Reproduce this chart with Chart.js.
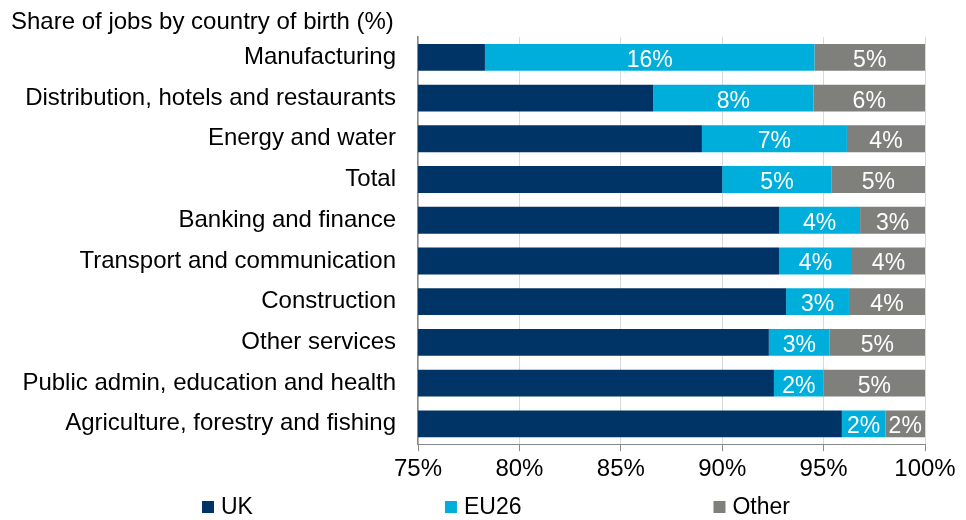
<!DOCTYPE html>
<html>
<head>
<meta charset="utf-8">
<title>Share of jobs by country of birth</title>
<script src="https://cdn.jsdelivr.net/npm/chart.js@4.4.1/dist/chart.umd.min.js"></script>
<style>
  html, body { margin: 0; padding: 0; background: #ffffff; }
  #wrap { width: 966px; height: 520px; }
</style>
</head>
<body>
<div id="wrap"><canvas id="chart" width="966" height="520"></canvas></div>
<script>
// Sectors, top to bottom
const sectors = [
  'Manufacturing',
  'Distribution, hotels and restaurants',
  'Energy and water',
  'Total',
  'Banking and finance',
  'Transport and communication',
  'Construction',
  'Other services',
  'Public admin, education and health',
  'Agriculture, forestry and fishing'
];

// Share of jobs held by workers born in each place (%)
const ukShare    = [78.3, 86.6, 89.0, 90.0, 92.8, 92.8, 93.15, 92.3, 92.55, 95.9];
const eu26Share  = [16.25, 7.9, 7.15, 5.4, 4.0, 3.6, 3.1, 3.0, 2.45, 2.15];
const otherShare = [5.45, 5.5, 3.85, 4.6, 3.2, 3.6, 3.75, 4.7, 5.0, 1.95];

const seriesNames = ['UK', 'EU26', 'Other'];
const seriesColors = ['#003366', '#00AEDB', '#7F7F7B'];

const axisMin = 75;
const axisMax = 100;
const axisStep = 5;

const chartTitle = 'Share of jobs by country of birth (%)';
const FONT = '"Liberation Sans", Arial, sans-serif';
const TEXT_SIZE = 24;   // title, category and axis labels
const MARK_SIZE = 23;   // segment values and legend

// Title drawn in the top-left corner
const titlePlugin = {
  id: 'cornerTitle',
  afterDraw(chart) {
    const ctx = chart.ctx;
    ctx.save();
    ctx.font = TEXT_SIZE + 'px ' + FONT;
    ctx.fillStyle = '#000000';
    ctx.textAlign = 'left';
    ctx.textBaseline = 'alphabetic';
    ctx.fillText(chartTitle, 11, 28.5);
    ctx.restore();
  }
};

// White value labels centred in the EU26 and Other segments
const segmentLabelPlugin = {
  id: 'segmentLabels',
  afterDatasetsDraw(chart) {
    const ctx = chart.ctx;
    const area = chart.chartArea;
    ctx.save();
    ctx.font = MARK_SIZE + 'px ' + FONT;
    ctx.fillStyle = '#ffffff';
    ctx.textAlign = 'center';
    ctx.textBaseline = 'alphabetic';
    [1, 2].forEach(di => {
      const meta = chart.getDatasetMeta(di);
      const values = chart.data.datasets[di].data;
      meta.data.forEach((bar, i) => {
        const p = bar.getProps(['x', 'y', 'base'], true);
        const left = Math.max(Math.min(p.x, p.base), area.left);
        const right = Math.min(Math.max(p.x, p.base), area.right);
        const cx = (left + right) / 2;
        ctx.fillText(Math.round(values[i]) + '%', cx, p.y + 9.5);
      });
    });
    ctx.restore();
  }
};

// Legend row along the bottom
const legendPlugin = {
  id: 'bottomLegend',
  afterDraw(chart) {
    const ctx = chart.ctx;
    const box = 12, gapText = 7, gapItem = 192;
    const centerX = 496, baseY = 514;
    ctx.save();
    ctx.font = MARK_SIZE + 'px ' + FONT;
    ctx.textBaseline = 'alphabetic';
    ctx.textAlign = 'left';
    const widths = seriesNames.map(n => box + gapText + ctx.measureText(n).width);
    const total = widths.reduce((a, b) => a + b, 0) + gapItem * (widths.length - 1);
    let x = centerX - total / 2;
    seriesNames.forEach((name, i) => {
      ctx.fillStyle = seriesColors[i];
      ctx.fillRect(x, baseY - 13, box, box);
      ctx.fillStyle = '#000000';
      ctx.fillText(name, x + box + gapText, baseY);
      x += widths[i] + gapItem;
    });
    ctx.restore();
  }
};

const datasets = [ukShare, eu26Share, otherShare].map((values, i) => ({
  label: seriesNames[i],
  data: values,
  backgroundColor: seriesColors[i],
  borderWidth: 0,
  barPercentage: 0.66,
  categoryPercentage: 1.0
}));

new Chart(document.getElementById('chart'), {
  type: 'bar',
  data: { labels: sectors, datasets },
  options: {
    indexAxis: 'y',
    responsive: false,
    animation: false,
    devicePixelRatio: 1,
    layout: { padding: { top: 37, right: 41, bottom: 32, left: 0 } },
    plugins: {
      legend: { display: false },
      title: { display: false },
      tooltip: { enabled: false }
    },
    scales: {
      x: {
        stacked: true,
        min: axisMin,
        max: axisMax,
        border: { display: true, color: '#898989', width: 1 },
        grid: {
          color: '#D9D9D9',
          lineWidth: 1,
          drawTicks: true,
          tickLength: 7,
          tickColor: '#898989'
        },
        ticks: {
          stepSize: axisStep,
          padding: 4,
          color: '#000000',
          font: { family: FONT, size: TEXT_SIZE },
          callback: v => v + '%'
        }
      },
      y: {
        stacked: true,
        border: { display: true, color: '#898989', width: 1.5 },
        grid: { display: false, drawTicks: false },
        ticks: {
          padding: 22,
          color: '#000000',
          font: { family: FONT, size: TEXT_SIZE }
        },
        afterFit(scale) { scale.width = 418; }
      }
    }
  },
  plugins: [titlePlugin, segmentLabelPlugin, legendPlugin]
});
</script>
</body>
</html>
